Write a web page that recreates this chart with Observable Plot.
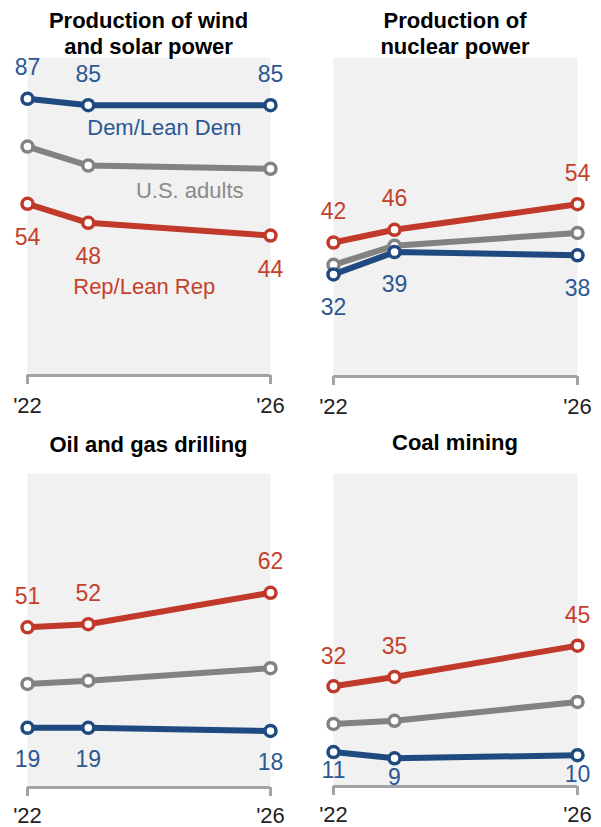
<!DOCTYPE html>
<html>
<head>
<meta charset="utf-8">
<script src="https://cdn.jsdelivr.net/npm/d3@7"></script>
<script src="https://cdn.jsdelivr.net/npm/@observablehq/plot@0.6"></script>
<style>
  html, body { margin: 0; padding: 0; background: #fff; }
  #root { position: relative; width: 601px; height: 827px; overflow: hidden; font-family: "Liberation Sans", Arial, sans-serif; }
  .panel { position: absolute; }
  .title { position: absolute; font-weight: bold; font-size: 22px; line-height: 26px; text-align: center; color: #000; white-space: nowrap; }
  svg { font-family: "Liberation Sans", Arial, sans-serif; }
</style>
</head>
<body>
<div id="root"></div>
<script>
// ---- Data ----
const years = [2022, 2023, 2026];
const tickYears = [2022, 2026];
const tickLabels = ["'22", "'26"];
const titles = [
  ["Production of wind", "and solar power"],
  ["Production of", "nuclear power"],
  ["Oil and gas drilling"],
  ["Coal mining"]
];
const seriesNames = ["Dem/Lean Dem", "U.S. adults", "Rep/Lean Rep"];

const windDem = [87, 85, 85];
const windAll = [72, 66, 65];
const windRep = [54, 48, 44];

const nuclearDem = [32, 39, 38];
const nuclearAll = [35, 41, 45];
const nuclearRep = [42, 46, 54];

const oilDem = [19, 19, 18];
const oilAll = [33, 34, 38];
const oilRep = [51, 52, 62];

const coalDem = [11, 9, 10];
const coalAll = [20, 21, 27];
const coalRep = [32, 35, 45];

// ---- Styles ----
const lineColor = { dem: "#1f4a7f", all: "#828282", rep: "#c0392b" };
const textColor = { dem: "#2b5893", all: "#8a8a8a", rep: "#c4412c" };

const panels = [
  { title: titles[0], dem: windDem, all: windAll, rep: windRep,
    left: 0, top: 0, width: 300, height: 420, mt: 57, mb: 45, ml: 27, mr: 30, titleTop: 8, pad: 13,
    above: "dem", aboveDy: -31, below: "rep", belowDy: 34, seriesLabels: true },
  { title: titles[1], dem: nuclearDem, all: nuclearAll, rep: nuclearRep,
    left: 300, top: 0, width: 301, height: 420, mt: 57, mb: 44, ml: 33, mr: 24, titleTop: 8, pad: 13,
    above: "rep", aboveDy: -31, below: "dem", belowDy: 33 },
  { title: titles[2], dem: oilDem, all: oilAll, rep: oilRep,
    left: 0, top: 420, width: 300, height: 407, mt: 53, mb: 40, ml: 27, mr: 30, titleTop: 12, pad: 11,
    above: "rep", aboveDy: -31, below: "dem", belowDy: 32 },
  { title: titles[3], dem: coalDem, all: coalAll, rep: coalRep,
    left: 300, top: 420, width: 301, height: 407, mt: 53, mb: 41, ml: 33, mr: 24, titleTop: 10, pad: 11,
    above: "rep", aboveDy: -30, below: "dem", belowDy: 19 }
];

const root = document.getElementById("root");

for (const p of panels) {
  const rows = [];
  for (const key of ["all", "rep", "dem"]) {
    years.forEach((yr, i) => rows.push({ year: yr, value: p[key][i], key }));
  }
  const marks = [
    Plot.frame({ fill: "#f1f1f1", stroke: "none" }),
    Plot.ruleY([0], { stroke: "#a3a3a3", strokeWidth: 3 }),
    Plot.axisX(tickYears, {
      label: null,
      tickSize: 9, tickPadding: p.pad, strokeWidth: 3, stroke: "#a3a3a3", fill: "#222",
      fontSize: 22, tickFormat: (d) => tickLabels[tickYears.indexOf(d)]
    })
  ];
  for (const key of ["all", "rep", "dem"]) {
    const d = rows.filter((r) => r.key === key);
    marks.push(Plot.line(d, { x: "year", y: "value", stroke: lineColor[key], strokeWidth: 6 }));
    marks.push(Plot.dot(d, { x: "year", y: "value", r: 5.5, fill: "white", stroke: lineColor[key], strokeWidth: 3.5 }));
  }
  const up = rows.filter((r) => r.key === p.above);
  const dn = rows.filter((r) => r.key === p.below);
  marks.push(Plot.text(up, { x: "year", y: "value", text: "value", dy: p.aboveDy, fill: textColor[p.above], fontSize: 23 }));
  marks.push(Plot.text(dn, { x: "year", y: "value", text: "value", dy: p.belowDy, fill: textColor[p.below], fontSize: 23 }));

  if (p.seriesLabels) {
    const demPt = [{ year: years[1], value: p.dem[1], label: seriesNames[0] }];
    const allPt = [{ year: years[2], value: p.all[2], label: seriesNames[1] }];
    const repPt = [{ year: years[1], value: p.rep[1], label: seriesNames[2] }];
    marks.push(Plot.text(demPt, { x: "year", y: "value", text: "label", textAnchor: "start", dx: -1, dy: 23, fill: textColor.dem, fontSize: 22 }));
    marks.push(Plot.text(allPt, { x: "year", y: "value", text: "label", textAnchor: "end", dx: -27, dy: 22, fill: textColor.all, fontSize: 22 }));
    marks.push(Plot.text(repPt, { x: "year", y: "value", text: "label", textAnchor: "start", dx: -15, dy: 64, fill: textColor.rep, fontSize: 22 }));
  }

  const chart = Plot.plot({
    width: p.width,
    height: p.height,
    marginTop: p.mt,
    marginBottom: p.mb,
    marginLeft: p.ml,
    marginRight: p.mr,
    x: { type: "linear", domain: [years[0], years[years.length - 1]], axis: null, label: null },
    y: { domain: [0, 100], axis: null },
    style: { background: "transparent", overflow: "visible" },
    marks
  });
  const wrap = document.createElement("div");
  wrap.className = "panel";
  wrap.style.left = p.left + "px";
  wrap.style.top = p.top + "px";
  wrap.appendChild(chart);
  root.appendChild(wrap);

  const t = document.createElement("div");
  t.className = "title";
  t.style.left = (p.left + p.ml) + "px";
  t.style.width = (p.width - p.ml - p.mr) + "px";
  t.style.top = (p.top + p.titleTop) + "px";
  t.innerHTML = p.title.join("<br>");
  root.appendChild(t);
}
</script>
</body>
</html>
